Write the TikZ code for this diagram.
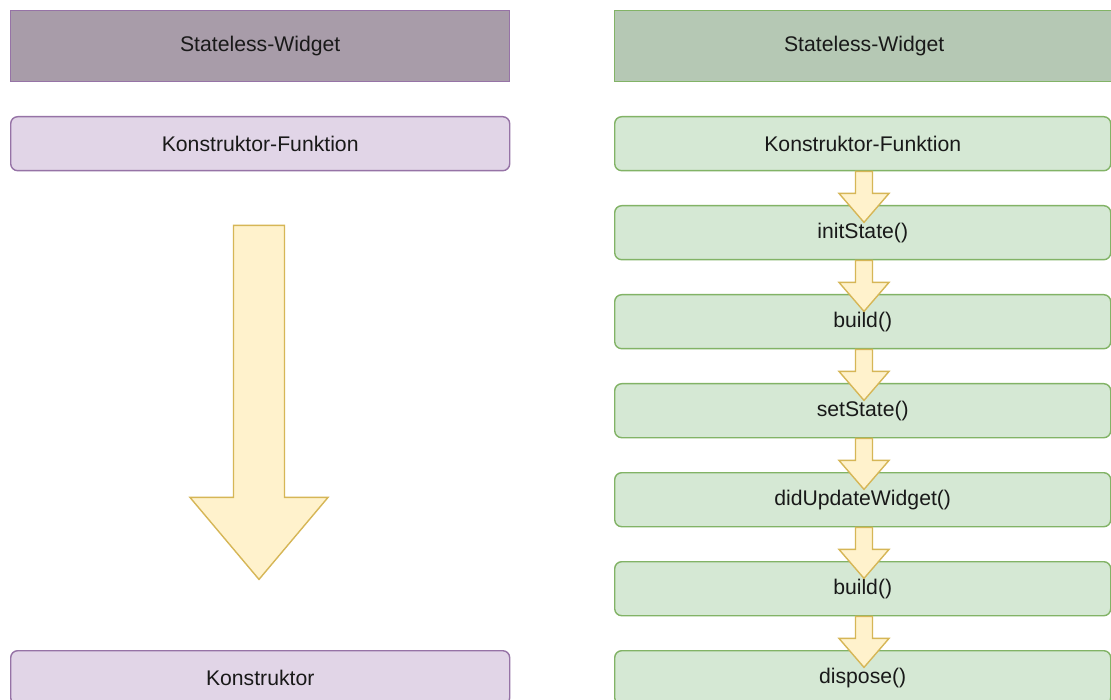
\documentclass[tikz,border=0pt]{standalone}
\usepackage{fontspec}
\setmainfont{Liberation Sans}
\usetikzlibrary{calc}
\definecolor{phead}{HTML}{A89CA9}
\definecolor{pbox}{HTML}{E1D5E7}
\definecolor{pline}{HTML}{9673A6}
\definecolor{ghead}{HTML}{B5C8B4}
\definecolor{gbox}{HTML}{D5E8D4}
\definecolor{gline}{HTML}{82B366}
\definecolor{afill}{HTML}{FFF2CC}
\definecolor{aline}{HTML}{D6B656}
\newcommand{\blockarr}[5]{%
  \draw[arrstyle] ($(#1)+(-#2,0)$) -- ($(#1)+(-#2,#4)$) -- ($(#1)+(-#3,#4)$) -- ($(#1)+(0,#5)$) -- ($(#1)+(#3,#4)$) -- ($(#1)+(#2,#4)$) -- ($(#1)+(#2,0)$) -- cycle;}
\begin{document}
\begin{tikzpicture}[x=1pt,y=-1pt,
  every node/.style={font=\fontsize{21.2}{25}\selectfont, text=black!90, inner sep=0pt},
  lhead/.style={draw=pline, fill=phead, line width=1.4pt, anchor=north west, minimum width=499pt, minimum height=71pt},
  rhead/.style={draw=gline, fill=ghead, line width=1.4pt, anchor=north west, minimum width=499pt, minimum height=71pt},
  lbox/.style={draw=pline, fill=pbox, line width=1.4pt, rounded corners=7pt, anchor=north west, minimum width=499pt, minimum height=54pt},
  rbox/.style={draw=gline, fill=gbox, line width=1.4pt, rounded corners=7pt, anchor=north west, minimum width=496pt, minimum height=54pt},
  arrstyle/.style={draw=aline, fill=afill, line width=1.4pt, line join=miter}]
\useasboundingbox (0,0) rectangle (1111,700);
\fill[white] (0,0) rectangle (1111,700);
% left column
\node[lhead] (lh) at (10,10) {Stateless-Widget};
\node[lbox] (lk) at (10,116) {Konstruktor-Funktion};
\node[lbox] (lko) at (10,650) {Konstruktor};
% right column
\node[rhead] (rh) at (614,10) {Stateless-Widget};
\node[rbox] (r1) at (614,116) {Konstruktor-Funktion};
\node[rbox] (r2) at (614,205) {initState()};
\node[rbox] (r3) at (614,294) {build()};
\node[rbox] (r4) at (614,383) {setState()};
\node[rbox] (r5) at (614,472) {didUpdateWidget()};
\node[rbox] (r6) at (614,561) {build()};
\node[rbox] (r7) at (614,650) {dispose()};
% arrows
\coordinate (bx) at (259,0);
\coordinate (ax) at (864,0);
\coordinate (bt) at ($(lk.south -| bx)+(0,54)$);
\blockarr{bt}{25.5}{69}{272}{354}
\foreach \a in {1,...,6}{
  \coordinate (t\a) at (r\a.south -| ax);
  \blockarr{t\a}{8.5}{25}{22}{51}
}
\end{tikzpicture}
\end{document}
